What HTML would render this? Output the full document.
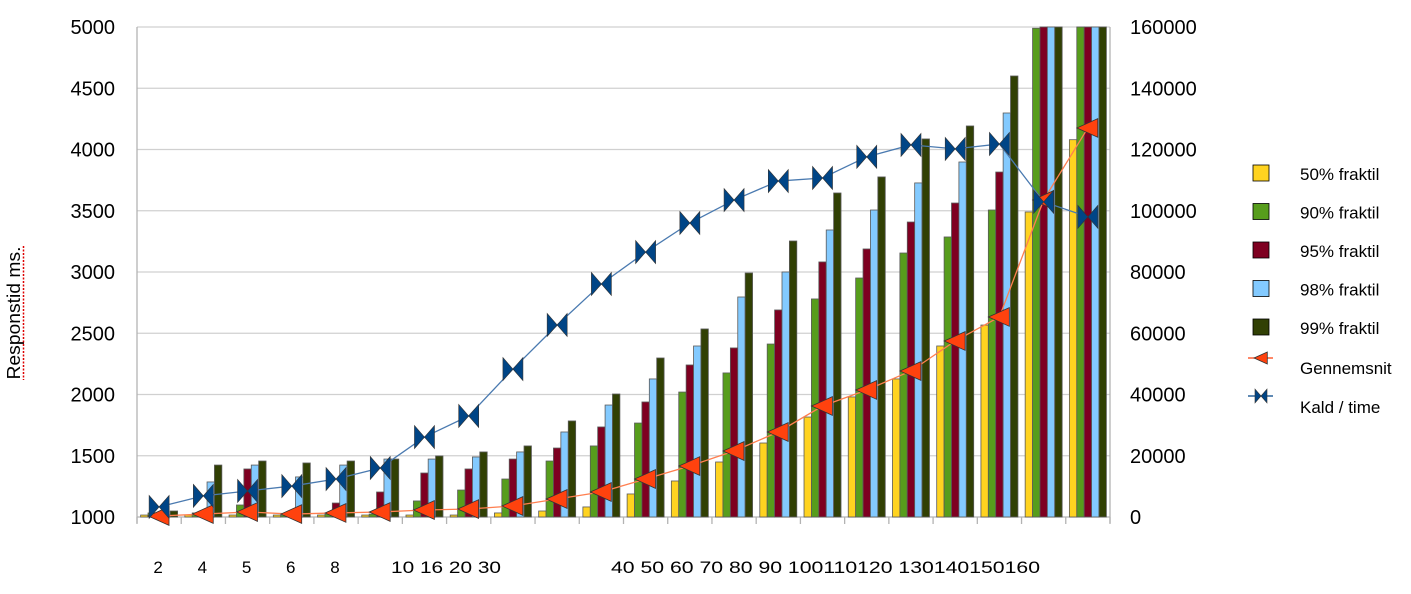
<!DOCTYPE html>
<html><head><meta charset="utf-8"><style>
body{margin:0;background:#fff;}
svg text{font-family:"Liberation Sans",sans-serif;fill:#000;}
</style></head><body>
<svg id="chart" width="1411" height="589" xmlns="http://www.w3.org/2000/svg">
<g id="grid"></g><g id="bars"></g><g id="lines"></g><g id="axes"></g><g id="legend"></g>
<text transform="translate(20,313) rotate(-90)" text-anchor="middle" font-size="18" textLength="133" lengthAdjust="spacingAndGlyphs">Responstid ms.</text>
<line x1="23.5" y1="246" x2="23.5" y2="380" stroke="#d00" stroke-width="1.5" stroke-dasharray="2,1.5"/>
</svg>
<script>
const xLabels=["2","4","5","6","8","10","16","20","30","40","50","60","70","80","90","100","110","120","130","140","150","160"];
const leftTicks=[1000,1500,2000,2500,3000,3500,4000,4500,5000];
const rightTicks=[0,20000,40000,60000,80000,100000,120000,140000,160000];
const p50=[1016,1016,1016,1016,1016,1016,1016,1016,1033,1049,1082,1188,1294,1449,1604,1816,1980,2127,2396,2567,3490,4080];
const p90=[1033,1033,1098,1016,1024,1024,1131,1220,1310,1457,1580,1767,2020,2176,2412,2780,2951,3155,3286,3506,4990,5200];
const p95=[1016,1016,1392,1016,1114,1204,1359,1392,1473,1563,1735,1939,2241,2380,2690,3082,3188,3408,3563,3816,5200,5200];
const p98=[1016,1286,1424,1327,1424,1473,1473,1490,1531,1694,1914,2127,2396,2796,3000,3343,3506,3727,3898,4298,5200,5200];
const p99=[1049,1424,1457,1441,1457,1473,1498,1531,1580,1784,2004,2298,2535,2992,3253,3645,3776,4086,4192,4600,5200,5200];
const gennemsnit=[1008,1024,1041,1024,1033,1041,1057,1065,1090,1147,1204,1310,1416,1539,1694,1906,2037,2192,2437,2633,3588,4176];
const kald=[3300,6900,8500,10100,12400,16000,26100,33000,48300,62700,76100,86500,96000,103500,109700,110700,117600,121500,120200,121800,102900,98000];
const NS="http://www.w3.org/2000/svg";
const X0=137,X1=1110,Y0=517,Y1=27,N=xLabels.length,gw=(X1-X0)/N;
const yL=v=>Y0-(Math.min(v,5000)-1000)/4000*(Y0-Y1);
const yR=v=>Y0-v/160000*(Y0-Y1);
const xC=i=>X0+gw*(i+0.5);
function mk(tag,attrs,parent,txt){const e=document.createElementNS(NS,tag);for(const k in attrs)e.setAttribute(k,attrs[k]);if(txt!==undefined)e.textContent=txt;document.getElementById(parent).appendChild(e);return e;}
leftTicks.forEach((t,i)=>{
 const y=yL(t);
 const g=mk('line',{x1:X0,x2:X1,y1:y,y2:y,stroke:i==0?'#b3b3b3':'#d0d0d0','stroke-width':1.3},'grid');
 
 
 const l=mk('text',{x:115,y:y+7,'text-anchor':'end','font-size':20},'axes',String(t));
 
 
});
rightTicks.forEach(t=>{
 const r=mk('text',{x:1130,y:yR(t)+7,'font-size':20},'axes',String(t));
 
 
});
[X0,X1].forEach(x=>{const a=mk('line',{x1:x,x2:x,y1:Y1,y2:Y0+6,stroke:'#b3b3b3','stroke-width':1.3},'axes');
 
 });
for(let i=0;i<=N;i++){const x=X0+gw*i;const t=mk('line',{x1:x,x2:x,y1:Y0,y2:Y0+7,stroke:'#b3b3b3','stroke-width':1.3},'axes');
 
 }
// x labels: first five individually, then two run-together strings (as in the original)
xLabels.slice(0,5).forEach((s,i)=>{const t=mk('text',{x:xC(i)-1,y:573,'text-anchor':'middle','font-size':17},'axes',s);
 
 });
const xl2=mk('text',{x:391,y:573,'font-size':17,textLength:110,lengthAdjust:'spacingAndGlyphs'},'axes',xLabels.slice(5,9).join(' '));


const rest=xLabels.slice(9);
const xl3=mk('text',{x:611,y:573,'font-size':17,textLength:429,lengthAdjust:'spacingAndGlyphs'},'axes',rest.slice(0,6).join(' ')+' '+rest.slice(6,9).join('')+' '+rest.slice(9).join(''));


const series=[p50,p90,p95,p98,p99];
const colors=['#ffd320','#579d1c','#7e0021','#83caff','#314004'];
const names=['bar-50','bar-90','bar-95','bar-98','bar-99'];
const bw=7.4;
series.forEach((s,k)=>s.forEach((v,i)=>{
 const x=xC(i)-18.5+k*bw,y=yL(v);
 const b=mk('rect',{x:x,y:y,width:bw,height:Y0-y,fill:colors[k],stroke:'#5a5a5a','stroke-width':0.8},'bars');
 
 
}));
const gp=gennemsnit.map((v,i)=>xC(i)+','+yL(v)).join(' ');
const gl=mk('polyline',{points:gp,fill:'none',stroke:'#ff7f50','stroke-width':1.3},'lines');


const kp=kald.map((v,i)=>xC(i)+','+yR(v)).join(' ');
const kl=mk('polyline',{points:kp,fill:'none',stroke:'#4a7ab0','stroke-width':1.3},'lines');


function tri(x,y,s,parent){return mk('polygon',{points:`${x-s},${y} ${x+s*0.9},${y-s*0.85} ${x+s*0.9},${y+s*0.85}`,fill:'#ff420e',stroke:'#333','stroke-width':0.8},parent);}
function bowtie(x,y,s,parent){return mk('path',{d:`M${x-s},${y-s*1.15}L${x},${y}L${x-s},${y+s*1.15}Z M${x+s},${y-s*1.15}L${x},${y}L${x+s},${y+s*1.15}Z`,fill:'#004586',stroke:'#333','stroke-width':0.6},parent);}
gennemsnit.forEach((v,i)=>{const t=tri(xC(i),yL(v),11,'lines');
 
 });
kald.forEach((v,i)=>{const t=bowtie(xC(i),yR(v),10,'lines');
 
 });
const legNames=['50% fraktil','90% fraktil','95% fraktil','98% fraktil','99% fraktil'];
legNames.forEach((n,k)=>{
 const y=165+k*38.5;
 const r=mk('rect',{x:1253,y:y,width:16,height:16,fill:colors[k],stroke:'#000','stroke-width':0.8},'legend');
 
 
 const t=mk('text',{x:1300,y:y+15,'font-size':17},'legend',n);
 
 
});
const l1=mk('line',{x1:1248,x2:1273,y1:358,y2:358,stroke:'#ff420e','stroke-width':1.3},'legend');


const m1=tri(1261,358,7,'legend');


const t1=mk('text',{x:1300,y:374,'font-size':17},'legend','Gennemsnit');


const l2=mk('line',{x1:1248,x2:1273,y1:396,y2:396,stroke:'#004586','stroke-width':1.3},'legend');


const m2=bowtie(1261,396,6,'legend');


const t2=mk('text',{x:1300,y:413,'font-size':17},'legend','Kald / time');


</script>
</body></html>
